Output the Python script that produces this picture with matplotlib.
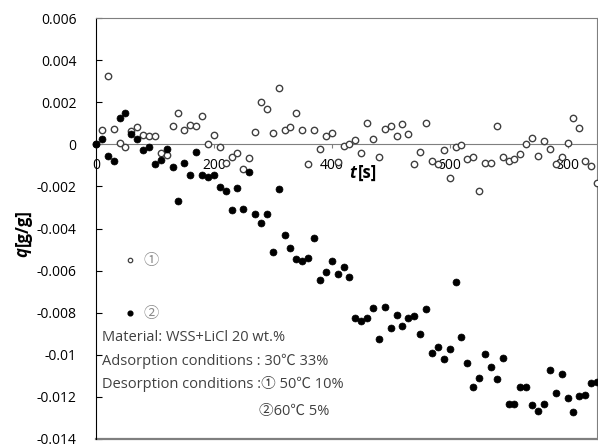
import matplotlib.pyplot as plt

# sample times [s]
t = [0, 10, 20, 30, 40, 50, 60, 70, 80, 90,
     100, 110, 120, 130, 140, 150, 160, 170, 180, 190,
     200, 210, 220, 230, 240, 250, 260, 270, 280, 290,
     300, 310, 320, 330, 340, 350, 360, 370, 380, 390,
     400, 410, 420, 430, 440, 450, 460, 470, 480, 490,
     500, 510, 520, 530, 540, 550, 560, 570, 580, 590,
     600, 610, 620, 630, 640, 650, 660, 670, 680, 690,
     700, 710, 720, 730, 740, 750, 760, 770, 780, 790,
     800, 810, 820, 830, 840, 850]

# (1) desorption 50C 10%
q1 = [0.0, 0.00068, 0.00324, 0.00073, 0.00008, -0.00011, 0.00065, 0.00082, 0.00044, 0.00038,
      0.00038, -0.00041, -0.00051, 0.00087, 0.00147, 0.00068, 0.00092, 0.00087, 0.00133, 0.0,
      0.00044, -0.00014, -0.00090, -0.00060, -0.00041, -0.00119, -0.00065, 0.00058, 0.00202, 0.00168,
      0.00054, 0.00266, 0.00068, 0.00082, 0.00147, 0.00068, -0.00095, 0.00068, -0.00022, 0.00038,
      0.00054, -0.00086, -0.00007, 0.0, 0.00019, -0.00041, 0.00103, 0.00024, -0.00060, 0.00073,
      0.00087, 0.00038, 0.00096, 0.00049, -0.00095, -0.00037, 0.00103, -0.00081, -0.00095, -0.00026,
      -0.00160, -0.00011, -0.00002, -0.00071, -0.00060, -0.00223, -0.00090, -0.00090, 0.00087, -0.00060,
      -0.00081, -0.00071, -0.00046, 0.00003, 0.00028, -0.00056, 0.00014, -0.00021, -0.00095, -0.00060,
      0.00008, 0.00124, 0.00077, -0.00081, -0.00102, -0.00182]

# (2) desorption 60C 5%
q2 = [0.0, 0.00025, -0.00054, -0.00081, 0.00124, 0.00147, 0.00049, 0.00025, -0.00026, -0.00011,
      -0.00095, -0.00076, -0.00021, -0.00109, -0.00268, -0.00090, -0.00144, -0.00037, -0.00144, -0.00154,
      -0.00144, -0.00204, -0.00223, -0.00312, -0.00209, -0.00307, -0.00130, -0.00331, -0.00375, -0.00331,
      -0.00513, -0.00214, -0.00429, -0.00491, -0.00546, -0.00556, -0.00539, -0.00444, -0.00646, -0.00607,
      -0.00556, -0.00618, -0.00583, -0.00632, -0.00827, -0.00841, -0.00827, -0.00776, -0.00923, -0.00771,
      -0.00871, -0.00811, -0.00863, -0.00827, -0.00816, -0.00900, -0.00781, -0.00993, -0.00961, -0.01021,
      -0.00972, -0.00653, -0.00917, -0.01040, -0.01154, -0.01112, -0.00996, -0.01057, -0.01116, -0.01017,
      -0.01234, -0.01234, -0.01151, -0.01154, -0.01238, -0.01265, -0.01234, -0.01072, -0.01180, -0.01093,
      -0.01207, -0.01270, -0.01196, -0.01191, -0.01133, -0.01128]

y_ticks = [0.006, 0.004, 0.002, 0, -0.002, -0.004, -0.006, -0.008, -0.01, -0.012, -0.014]
x_ticks = [0, 200, 400, 600, 800]

notes = [
    "Material: WSS+LiCl 20 wt.%",
    "Adsorption conditions : 30\u2103 33%",
    "Desorption conditions :\u2460 50\u2103 10%",
]
note_last = "\u246160\u2103 5%"

fonts = ["Open Sans", "Noto Sans CJK JP", "DejaVu Sans"]
plt.rcParams["font.family"] = fonts

fig = plt.figure(figsize=(5.98, 4.46), dpi=100)
ax = fig.add_axes([0.1605, 0.0157, 0.8378, 0.9439])

ax.plot(t, q1, "o", ms=4.6, mfc="white", mec="#404040", mew=1.0, clip_on=False, zorder=3)
ax.plot(t, q2, "o", ms=5.0, mfc="black", mec="black", mew=0.5, clip_on=False, zorder=4)

ax.set_xlim(0, 850)
ax.set_ylim(-0.014, 0.006)

# x axis sits at q = 0, plot area keeps a frame
ax.spines["bottom"].set_position(("data", 0))
ax.spines["bottom"].set_color("#7f7f7f")
for s in ["top", "right"]:
    ax.spines[s].set_color("#7f7f7f")
ax.spines["left"].set_color("black")
ax.axhline(-0.014, color="#7f7f7f", lw=1.6, clip_on=False)

ax.set_yticks(y_ticks)
ax.set_yticklabels([f"{v:g}" for v in y_ticks])
ax.set_xticks(x_ticks)
ax.set_xticklabels([str(v) for v in x_ticks])
ax.tick_params(axis="y", direction="in", length=4, labelsize=10, pad=14, colors="black")
ax.tick_params(axis="x", direction="out", length=3, labelsize=10, pad=7, color="#7f7f7f")

# axis titles: italic bold symbol + bold unit
tx = ax.text(430, -0.00136, "t", fontsize=12, fontweight="bold", fontstyle="italic", va="center")
ax.annotate("[s]", xy=(1, 0), xycoords=tx, xytext=(1, 0), textcoords="offset points",
            fontsize=12, fontweight="bold", va="bottom")
qy = fig.text(0.038, 0.435, "q", fontsize=12, fontweight="bold", fontstyle="italic",
              rotation=90, ha="center", va="center")
ax.annotate("[g/g]", xy=(0.5, 1), xycoords=qy, xytext=(0, 1), textcoords="offset points",
            fontsize=12, fontweight="bold", rotation=90, ha="center", va="bottom")

# legend markers
ax.plot([58], [-0.0055], "o", ms=3.2, mfc="white", mec="#404040", mew=0.9)
ax.plot([58], [-0.00802], "o", ms=3.4, mfc="black", mec="black")
ax.text(80, -0.00555, "\u2460", fontsize=11, color="#8c8c8c", va="center")
ax.text(80, -0.0081, "\u2461", fontsize=11, color="#8c8c8c", va="center")

note_y = [-0.00917, -0.01031, -0.01139]
for s, y in zip(notes, note_y):
    ax.text(11, y, s, fontsize=10.5, color="#404040", va="center")
ax.text(276, -0.01270, note_last, fontsize=10.5, color="#404040", va="center")

fig.savefig("out.png", dpi=100)
